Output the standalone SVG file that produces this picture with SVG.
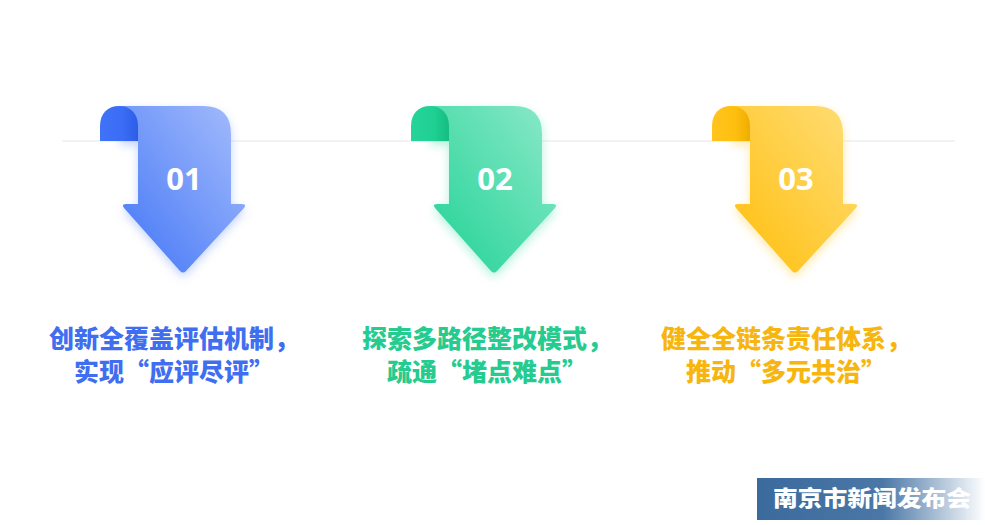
<svg xmlns="http://www.w3.org/2000/svg" width="985" height="525" viewBox="0 0 985 525">
<defs>
<linearGradient id="gB" x1="1" y1="0" x2="0" y2="1"><stop offset="0" stop-color="#a6bdfc"/><stop offset="1" stop-color="#4175f6"/></linearGradient>
<linearGradient id="gG" x1="1" y1="0" x2="0" y2="1"><stop offset="0" stop-color="#8ce9c9"/><stop offset="1" stop-color="#20d295"/></linearGradient>
<linearGradient id="gY" x1="1" y1="0" x2="0" y2="1"><stop offset="0" stop-color="#ffdd77"/><stop offset="1" stop-color="#ffbe0b"/></linearGradient>
<linearGradient id="cB" x1="0" y1="0" x2="1" y2="0"><stop offset="0" stop-color="#4073f8"/><stop offset="0.6" stop-color="#3a6cf6"/><stop offset="1" stop-color="#2d5de6"/></linearGradient>
<linearGradient id="cG" x1="0" y1="0" x2="1" y2="0"><stop offset="0" stop-color="#26d49b"/><stop offset="0.6" stop-color="#1fcf93"/><stop offset="1" stop-color="#15bd81"/></linearGradient>
<linearGradient id="cY" x1="0" y1="0" x2="1" y2="0"><stop offset="0" stop-color="#ffc41e"/><stop offset="0.6" stop-color="#ffbf10"/><stop offset="1" stop-color="#efad00"/></linearGradient>
<linearGradient id="logo" x1="0" y1="0" x2="1" y2="0"><stop offset="0" stop-color="#3b6a9d"/><stop offset="0.55" stop-color="#4a77a6"/><stop offset="1" stop-color="#ffffff"/></linearGradient>
<filter id="shB" x="-30%" y="-30%" width="160%" height="160%"><feDropShadow dx="0" dy="4" stdDeviation="5" flood-color="#5a86f8" flood-opacity="0.35"/></filter>
<filter id="shG" x="-30%" y="-30%" width="160%" height="160%"><feDropShadow dx="0" dy="4" stdDeviation="5" flood-color="#2fd49c" flood-opacity="0.35"/></filter>
<filter id="shY" x="-30%" y="-30%" width="160%" height="160%"><feDropShadow dx="0" dy="4" stdDeviation="5" flood-color="#ffc31f" flood-opacity="0.35"/></filter>
<path id="body" d="M120,106 L203,106 Q231,106 231,134 L231,204 L242,204 Q247,204 244,208 L186,271 Q183,274 180,271 L124,208 Q121,204 126,204 L138,204 L138,141 L120,141 Z"/>
<path id="curl" d="M100,141 L100,126 C100,113 108,106 119,106 C130,106 138,113 138,126 L138,141 Z"/>
</defs>
<style>
.num{font-family:"Noto Sans","Liberation Sans",sans-serif;font-weight:700;font-size:31px;fill:#fff;text-anchor:middle}
.cap{font-family:"Noto Sans CJK SC","Noto Sans",sans-serif;font-weight:900;font-size:25px;text-anchor:middle}
</style>
<line x1="62" y1="141" x2="955" y2="141" stroke="#e6e6e6" stroke-width="1"/>
<g id="step1">
<use href="#body" fill="url(#gB)" filter="url(#shB)"/>
<use href="#curl" fill="url(#cB)"/>
<text class="num" x="184" y="190">01</text>
<text class="cap" x="174" y="348" fill="#3f6ff0">创新全覆盖评估机制，</text>
<text class="cap" x="174" y="381" fill="#3f6ff0">实现“应评尽评”</text>
</g>
<g id="step2" transform="translate(311,0)">
<use href="#body" fill="url(#gG)" filter="url(#shG)"/>
<use href="#curl" fill="url(#cG)"/>
<text class="num" x="184" y="190">02</text>
<text class="cap" x="176" y="348" fill="#25cb8f">探索多路径整改模式，</text>
<text class="cap" x="176" y="381" fill="#25cb8f">疏通“堵点难点”</text>
</g>
<g id="step3" transform="translate(612,0)">
<use href="#body" fill="url(#gY)" filter="url(#shY)"/>
<use href="#curl" fill="url(#cY)"/>
<text class="num" x="184" y="190">03</text>
<text class="cap" x="174" y="348" fill="#f7b60f">健全全链条责任体系，</text>
<text class="cap" x="174" y="381" fill="#f7b60f">推动“多元共治”</text>
</g>
<g id="logo-badge">
<rect x="757" y="478" width="228" height="42" fill="url(#logo)"/>
<text x="773" y="506" font-family="Noto Sans CJK SC,sans-serif" font-weight="900" font-size="22" fill="#fff" textLength="198" lengthAdjust="spacingAndGlyphs">南京市新闻发布会</text>
</g>
</svg>
